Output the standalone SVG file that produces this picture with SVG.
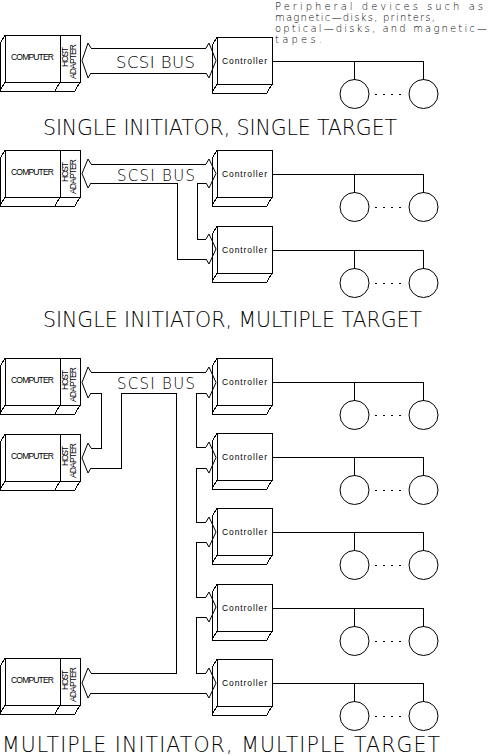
<svg xmlns="http://www.w3.org/2000/svg" width="491" height="756" viewBox="0 0 491 756">
<style>
.s{fill:none;stroke:#000;stroke-width:1;shape-rendering:crispEdges}
.a{fill:none;stroke:#000;stroke-width:1}
.thin{font-family:"DejaVu Sans","Liberation Sans",sans-serif;font-weight:200;fill:#000}
.lab{font-family:"Liberation Sans","DejaVu Sans",sans-serif;fill:#000;font-size:8.5px}
.title{font-size:20.5px}
</style>
<defs>
<g id="compShape" class="s">
<rect x="5" y="0" width="75" height="47"/>
<line x1="60" y1="0" x2="60" y2="47"/>
<polyline points="5,0 0,9 0,56 75,56 80,47"/>
<line x1="5" y1="47" x2="0" y2="56"/>
<line x1="60" y1="47" x2="55" y2="56"/>
</g>
<g id="ctrlShape" class="s">
<rect x="217" y="0" width="55" height="47"/>
<polyline points="217,0 212,9 212,56 267,56 272,47"/>
<line x1="217" y1="47" x2="212" y2="56"/>
</g>
<g id="periph">
<path class="s" d="M272,24H423.5M354.5,24V42.5M423.5,24V42.5"/>
<circle class="a" cx="354.5" cy="57" r="14.5"/>
<circle class="a" cx="423.5" cy="57" r="14.5"/>
<line class="s" x1="375" y1="57" x2="405" y2="57" stroke-dasharray="2,6"/>
</g>
</defs>

<!-- Section 1 -->
<g id="s1-computer" transform="translate(0,35)">
<use href="#compShape"/>
<text class="lab" x="32.5" y="25" text-anchor="middle" textLength="43">COMPUTER</text>
<text class="lab" transform="translate(68,22) rotate(-90)" text-anchor="middle" textLength="20">HOST</text>
<text class="lab" transform="translate(76,26.5) rotate(-90)" text-anchor="middle" textLength="35">ADAPTER</text>
</g>
<g id="s1-controller" transform="translate(0,37)">
<use href="#ctrlShape"/>
<text class="lab" x="244.5" y="27" text-anchor="middle" textLength="45">Controller</text>
</g>
<g id="s1-devices" transform="translate(0,37)"><use href="#periph"/></g>
<g id="peripheral-note" class="thin" font-size="10">
<text x="275" y="10" textLength="208">Peripheral devices such as</text>
<text x="275" y="21" textLength="160">magnetic—disks, printers,</text>
<text x="275" y="32" textLength="212">optical—disks, and magnetic—</text>
<text x="275" y="43" textLength="47">tapes.</text>
</g>
<text class="thin title" x="43" y="135" textLength="354">SINGLE INITIATOR, SINGLE TARGET</text>

<!-- Section 2 -->
<g id="s2-computer" transform="translate(0,150)">
<use href="#compShape"/>
<text class="lab" x="32.5" y="25" text-anchor="middle" textLength="43">COMPUTER</text>
<text class="lab" transform="translate(68,22) rotate(-90)" text-anchor="middle" textLength="20">HOST</text>
<text class="lab" transform="translate(76,26.5) rotate(-90)" text-anchor="middle" textLength="35">ADAPTER</text>
</g>
<g id="s2-controller1" transform="translate(0,150)">
<use href="#ctrlShape"/>
<text class="lab" x="244.5" y="27" text-anchor="middle" textLength="45">Controller</text>
</g>
<g id="s2-devices1" transform="translate(0,150)"><use href="#periph"/></g>
<g id="s2-controller2" transform="translate(0,226)">
<use href="#ctrlShape"/>
<text class="lab" x="244.5" y="27" text-anchor="middle" textLength="45">Controller</text>
</g>
<g id="s2-devices2" transform="translate(0,226)"><use href="#periph"/></g>
<text class="thin title" x="43" y="327" textLength="379">SINGLE INITIATOR, MULTIPLE TARGET</text>

<!-- Section 3 -->
<g id="s3-computer1" transform="translate(0,358)">
<use href="#compShape"/>
<text class="lab" x="32.5" y="25" text-anchor="middle" textLength="43">COMPUTER</text>
<text class="lab" transform="translate(68,22) rotate(-90)" text-anchor="middle" textLength="20">HOST</text>
<text class="lab" transform="translate(76,26.5) rotate(-90)" text-anchor="middle" textLength="35">ADAPTER</text>
</g>
<g id="s3-computer2" transform="translate(0,434)">
<use href="#compShape"/>
<text class="lab" x="32.5" y="25" text-anchor="middle" textLength="43">COMPUTER</text>
<text class="lab" transform="translate(68,22) rotate(-90)" text-anchor="middle" textLength="20">HOST</text>
<text class="lab" transform="translate(76,26.5) rotate(-90)" text-anchor="middle" textLength="35">ADAPTER</text>
</g>
<g id="s3-computer3" transform="translate(0,658)">
<use href="#compShape"/>
<text class="lab" x="32.5" y="25" text-anchor="middle" textLength="43">COMPUTER</text>
<text class="lab" transform="translate(68,22) rotate(-90)" text-anchor="middle" textLength="20">HOST</text>
<text class="lab" transform="translate(76,26.5) rotate(-90)" text-anchor="middle" textLength="35">ADAPTER</text>
</g>
<g id="s3-controller1" transform="translate(0,358)">
<use href="#ctrlShape"/>
<text class="lab" x="244.5" y="27" text-anchor="middle" textLength="45">Controller</text>
</g>
<g id="s3-devices1" transform="translate(0,358)"><use href="#periph"/></g>
<g id="s3-controller2" transform="translate(0,433)">
<use href="#ctrlShape"/>
<text class="lab" x="244.5" y="27" text-anchor="middle" textLength="45">Controller</text>
</g>
<g id="s3-devices2" transform="translate(0,433)"><use href="#periph"/></g>
<g id="s3-controller3" transform="translate(0,508)">
<use href="#ctrlShape"/>
<text class="lab" x="244.5" y="27" text-anchor="middle" textLength="45">Controller</text>
</g>
<g id="s3-devices3" transform="translate(0,508)"><use href="#periph"/></g>
<g id="s3-controller4" transform="translate(0,584)">
<use href="#ctrlShape"/>
<text class="lab" x="244.5" y="27" text-anchor="middle" textLength="45">Controller</text>
</g>
<g id="s3-devices4" transform="translate(0,584)"><use href="#periph"/></g>
<g id="s3-controller5" transform="translate(0,659)">
<use href="#ctrlShape"/>
<text class="lab" x="244.5" y="27" text-anchor="middle" textLength="45">Controller</text>
</g>
<g id="s3-devices5" transform="translate(0,659)"><use href="#periph"/></g>
<text class="thin title" x="2" y="752" textLength="438">MULTIPLE INITIATOR, MULTIPLE TARGET</text>

<!-- Connectors: SCSI bus -->
<g id="connectors">
<g class="s">
<path d="M91,48H206M91,73H206"/>
<path d="M91,164H206M206,183H197V239H206M91,183H177V259H206"/>
<path d="M91,372H206M91,393H101V448H91M91,468H121V393H176V673H91M91,693H206"/>
<path d="M206,393H196V447H206M206,468H196V522H206M206,542H196V597H206M206,617H196V673H206"/>
</g>
<g class="a">
<path d="M91,48L88,43L82,60.5L88,78L91,73"/>
<path d="M91,164L88,159L82,173.5L88,188L91,183"/>
<path d="M91,372L88,367L82,382.5L88,398L91,393"/>
<path d="M91,448L88,443L82,458L88,473L91,468"/>
<path d="M91,673L88,668L82,683L88,698L91,693"/>
<path d="M206,48L209,43L216,60.5L209,78L206,73"/>
<path d="M206,164L209,159L216,173.5L209,188L206,183"/>
<path d="M206,239L209,234L216,249L209,264L206,259"/>
<path d="M206,372L209,367L216,382.5L209,398L206,393"/>
<path d="M206,447L209,442L216,457.5L209,473L206,468"/>
<path d="M206,522L209,517L216,532L209,547L206,542"/>
<path d="M206,597L209,592L216,607L209,622L206,617"/>
<path d="M206,673L209,668L216,683L209,698L206,693"/>
</g>
<g class="thin">
<text x="116" y="68" font-size="16.5" textLength="79">SCSI BUS</text>
<text x="117" y="181" font-size="15" textLength="78">SCSI BUS</text>
<text x="117" y="389" font-size="15" textLength="78">SCSI BUS</text>
</g>
</g>
</svg>
